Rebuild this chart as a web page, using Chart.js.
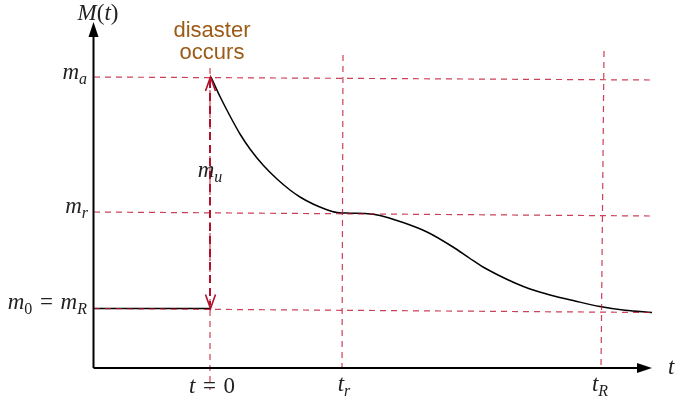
<!DOCTYPE html>
<html>
<head>
<meta charset="utf-8">
<script src="https://cdn.jsdelivr.net/npm/chart.js@4"></script>
<style>
  html, body { margin: 0; padding: 0; background: #fff; }
  #wrap { width: 676px; height: 400px; }
</style>
</head>
<body>
<div id="wrap"><canvas id="grafico"></canvas></div>
<script>
// t (horizontal) and M(t) (vertical) in arbitrary units
const tMin = -1.16, tMax = 4.5, tArrow = 4.42;
const mMin = -0.25, mMax = 3.46;

// key levels / instants
const t0 = 0, tr = 1.32, tR = 3.92;
const ma = 2.91, mr = 1.56, m0 = 0.595;

// M(t) before the disaster (flat)
const antesT = [-1.16, 0];
const antesM = [0.595, 0.595];

// M(t) after the disaster
const depoisT = [0.01, 0.10, 0.20, 0.30, 0.40, 0.53, 0.67, 0.80, 0.90, 1.03, 1.15, 1.27, 1.40, 1.55, 1.70, 1.90, 2.17, 2.43, 2.60, 2.73, 2.87, 3.05, 3.20, 3.40, 3.65, 3.90, 4.15, 4.42];
const depoisM = [2.91, 2.715, 2.52, 2.34, 2.19, 2.03, 1.89, 1.78, 1.71, 1.64, 1.59, 1.555, 1.548, 1.544, 1.525, 1.465, 1.36, 1.21, 1.095, 1.01, 0.935, 0.85, 0.79, 0.73, 0.67, 0.615, 0.577, 0.555];

// dashed guide lines: [x1, y1, x2, y2]
const guiasH = [[-1.16, 2.91, 4.42, 2.88], [-1.16, 1.56, 4.42, 1.52], [-1.16, 0.595, 4.42, 0.555]];
const guiasV = [[0, 3.00, 0, -0.22], [1.33, 3.13, 1.32, -0.06], [3.94, 3.17, 3.91, -0.02]];

const pares = (xs, ys) => xs.map((x, i) => ({ x: x, y: ys[i] }));
const vermelho = "rgba(190, 18, 45, 0.8)";
const vermelhoEscuro = "#b0102c";

let datasets = [];
guiasH.concat(guiasV).forEach(g => {
  datasets.push({
    data: [{ x: g[0], y: g[1] }, { x: g[2], y: g[3] }],
    borderColor: vermelho, borderWidth: 1.2, borderDash: [6, 5],
    pointRadius: 0, tension: 0,
  });
});
datasets.push({
  data: pares(antesT, antesM),
  borderColor: "#000", borderWidth: 1.5, pointRadius: 0, tension: 0,
});
datasets.push({
  data: pares(depoisT, depoisM),
  borderColor: "#000", borderWidth: 1.5, pointRadius: 0,
  cubicInterpolationMode: "monotone",
});
// m_u arrow (shaft)
datasets.push({
  data: [{ x: t0, y: ma - 0.03 }, { x: t0, y: m0 + 0.03 }],
  borderColor: vermelhoEscuro, borderWidth: 2, borderDash: [8, 5],
  pointRadius: 0, tension: 0,
});

// draw a label made of pieces {s, it, sub}
function rotulo(ctx, partes, x, y, alinhamento, tam) {
  const fonte = (p) => (p.it ? "italic " : "") + Math.round(p.sub ? tam * 0.7 : tam) + "px 'Liberation Serif', serif";
  let larg = 0;
  partes.forEach(p => { ctx.font = fonte(p); larg += ctx.measureText(p.s).width; });
  let px = alinhamento === "right" ? x - larg : alinhamento === "center" ? x - larg / 2 : x;
  ctx.textAlign = "left";
  ctx.textBaseline = "alphabetic";
  partes.forEach(p => {
    ctx.font = fonte(p);
    ctx.fillText(p.s, px, p.sub ? y + tam * 0.22 : y);
    px += ctx.measureText(p.s).width;
  });
}

const desenho = {
  id: "desenho",
  afterDatasetsDraw(chart) {
    const ctx = chart.ctx;
    const xs = chart.scales.x, ys = chart.scales.y;
    const X = v => xs.getPixelForValue(v), Y = v => ys.getPixelForValue(v);
    ctx.save();

    // axes with arrow heads
    const ox = X(tMin) - 0.5, oy = Y(0);
    ctx.strokeStyle = "#000";
    ctx.lineWidth = 2;
    ctx.beginPath();
    ctx.moveTo(ox, oy); ctx.lineTo(ox, Y(mMax) + 12);
    ctx.moveTo(ox, oy); ctx.lineTo(X(tArrow) - 12, oy);
    ctx.stroke();
    ctx.fillStyle = "#000";
    ctx.beginPath();
    ctx.moveTo(ox, Y(mMax)); ctx.lineTo(ox - 5, Y(mMax) + 15); ctx.lineTo(ox + 5, Y(mMax) + 15);
    ctx.closePath(); ctx.fill();
    ctx.beginPath();
    ctx.moveTo(X(tArrow), oy); ctx.lineTo(X(tArrow) - 15, oy - 5); ctx.lineTo(X(tArrow) - 15, oy + 5);
    ctx.closePath(); ctx.fill();

    // m_u arrow heads
    ctx.strokeStyle = vermelhoEscuro;
    ctx.lineWidth = 1.6;
    const ax = X(t0) + 0.5;
    ctx.beginPath();
    ctx.moveTo(ax - 5, Y(ma) + 14); ctx.lineTo(ax, Y(ma)); ctx.lineTo(ax + 5, Y(ma) + 14);
    ctx.moveTo(ax - 5, Y(m0) - 14); ctx.lineTo(ax, Y(m0)); ctx.lineTo(ax + 5, Y(m0) - 14);
    ctx.stroke();

    // text
    ctx.fillStyle = "#9c5a16";
    ctx.font = "22px 'Liberation Sans', Arial, sans-serif";
    ctx.textAlign = "center";
    ctx.textBaseline = "alphabetic";
    ctx.fillText("disaster", X(t0) + 2, 37);
    ctx.fillText("occurs", X(t0) + 2, 59);

    ctx.fillStyle = "#222";
    const T = 23;
    const eq = "\u2004=\u2004";
    rotulo(ctx, [{ s: "M", it: 1 }, { s: "(" }, { s: "t", it: 1 }, { s: ")" }], 98, 20, "center", T);
    rotulo(ctx, [{ s: "m", it: 1 }, { s: "a", it: 1, sub: 1 }], 87, Y(ma) + 2, "right", T);
    rotulo(ctx, [{ s: "m", it: 1 }, { s: "r", it: 1, sub: 1 }], 88, Y(mr) + 1, "right", T);
    rotulo(ctx, [{ s: "m", it: 1 }, { s: "0", sub: 1 }, { s: eq }, { s: "m", it: 1 }, { s: "R", it: 1, sub: 1 }], 87, Y(m0), "right", T);
    rotulo(ctx, [{ s: "m", it: 1 }, { s: "u", it: 1, sub: 1 }], 210, 177, "center", T);
    rotulo(ctx, [{ s: "t", it: 1 }], 668, 374, "left", T);
    rotulo(ctx, [{ s: "t", it: 1 }, { s: eq + "0" }], 212, 393, "center", T);
    rotulo(ctx, [{ s: "t", it: 1 }, { s: "r", it: 1, sub: 1 }], 344, 391, "center", T);
    rotulo(ctx, [{ s: "t", it: 1 }, { s: "R", it: 1, sub: 1 }], 600, 391, "center", T);
    ctx.restore();
  }
};

new Chart(document.getElementById("grafico"), {
  type: "line",
  data: { datasets: datasets },
  options: {
    responsive: true,
    maintainAspectRatio: false,
    animation: false,
    layout: { padding: { left: 94, right: 16, top: 22, bottom: 7 } },
    scales: {
      x: { type: "linear", min: tMin, max: tMax, display: false },
      y: { type: "linear", min: mMin, max: mMax, display: false },
    },
    plugins: {
      legend: { display: false },
      tooltip: { enabled: false },
    },
  },
  plugins: [desenho],
});
</script>
</body>
</html>
